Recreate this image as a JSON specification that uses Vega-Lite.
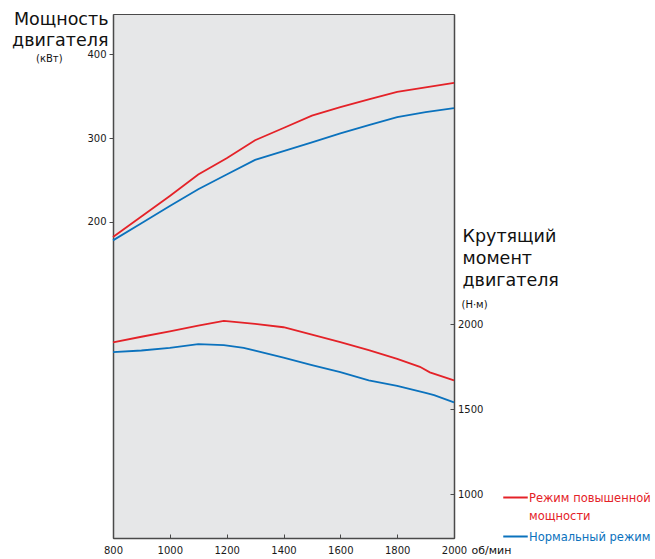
{
  "$schema": "https://vega.github.io/schema/vega-lite/v6.json",
  "autosize": {"type": "none"},
  "width": 341,
  "height": 524,
  "padding": {"left": 113, "top": 14, "right": 201, "bottom": 21},
  "background": "white",
  "config": {
    "view": {"fill": "#e6e7e8", "stroke": "#4a4a4a", "strokeWidth": 1},
    "font": "DejaVu Sans",
    "axis": {"labelFont": "DejaVu Sans", "labelFontSize": 10, "labelColor": "#1a1a1a", "titleFont": "DejaVu Sans", "titleFontWeight": "normal", "titleColor": "#111", "domainColor": "#4a4a4a", "domainWidth": 1.5, "tickColor": "#4a4a4a", "grid": false, "format": "d"}
  },
  "title": {"text": "(кВт)", "anchor": "start", "frame": "group", "orient": "top", "fontSize": 10, "fontWeight": "normal", "font": "DejaVu Sans", "color": "#111", "align": "left", "dx": -77, "offset": 0, "dy": 53.5},
  "datasets": {
    "power": [
      {"rpm": 800, "mode": "Режим повышенной мощности", "kW": 182},
      {"rpm": 900, "mode": "Режим повышенной мощности", "kW": 206.5},
      {"rpm": 1000, "mode": "Режим повышенной мощности", "kW": 231},
      {"rpm": 1100, "mode": "Режим повышенной мощности", "kW": 256.5},
      {"rpm": 1200, "mode": "Режим повышенной мощности", "kW": 276},
      {"rpm": 1300, "mode": "Режим повышенной мощности", "kW": 297.5},
      {"rpm": 1400, "mode": "Режим повышенной мощности", "kW": 312},
      {"rpm": 1500, "mode": "Режим повышенной мощности", "kW": 326.8},
      {"rpm": 1600, "mode": "Режим повышенной мощности", "kW": 336.8},
      {"rpm": 1700, "mode": "Режим повышенной мощности", "kW": 346.3},
      {"rpm": 1800, "mode": "Режим повышенной мощности", "kW": 355},
      {"rpm": 1900, "mode": "Режим повышенной мощности", "kW": 360.5},
      {"rpm": 2000, "mode": "Режим повышенной мощности", "kW": 365.8},
      {"rpm": 800, "mode": "Нормальный режим", "kW": 178},
      {"rpm": 900, "mode": "Нормальный режим", "kW": 198.5},
      {"rpm": 1000, "mode": "Нормальный режим", "kW": 219},
      {"rpm": 1100, "mode": "Нормальный режим", "kW": 239},
      {"rpm": 1200, "mode": "Нормальный режим", "kW": 256.5},
      {"rpm": 1300, "mode": "Нормальный режим", "kW": 274},
      {"rpm": 1400, "mode": "Нормальный режим", "kW": 284.5},
      {"rpm": 1500, "mode": "Нормальный режим", "kW": 295},
      {"rpm": 1600, "mode": "Нормальный режим", "kW": 305.5},
      {"rpm": 1700, "mode": "Нормальный режим", "kW": 315.5},
      {"rpm": 1800, "mode": "Нормальный режим", "kW": 325},
      {"rpm": 1900, "mode": "Нормальный режим", "kW": 331},
      {"rpm": 2000, "mode": "Нормальный режим", "kW": 335.7}
    ],
    "torque": [
      {"rpm": 800, "mode": "Режим повышенной мощности", "Nm": 1894},
      {"rpm": 900, "mode": "Режим повышенной мощности", "Nm": 1927},
      {"rpm": 1000, "mode": "Режим повышенной мощности", "Nm": 1959},
      {"rpm": 1100, "mode": "Режим повышенной мощности", "Nm": 1992},
      {"rpm": 1190, "mode": "Режим повышенной мощности", "Nm": 2021},
      {"rpm": 1300, "mode": "Режим повышенной мощности", "Nm": 2003},
      {"rpm": 1400, "mode": "Режим повышенной мощности", "Nm": 1983},
      {"rpm": 1500, "mode": "Режим повышенной мощности", "Nm": 1940},
      {"rpm": 1600, "mode": "Режим повышенной мощности", "Nm": 1895},
      {"rpm": 1700, "mode": "Режим повышенной мощности", "Nm": 1848},
      {"rpm": 1800, "mode": "Режим повышенной мощности", "Nm": 1797},
      {"rpm": 1880, "mode": "Режим повышенной мощности", "Nm": 1750},
      {"rpm": 1915, "mode": "Режим повышенной мощности", "Nm": 1717},
      {"rpm": 2000, "mode": "Режим повышенной мощности", "Nm": 1670},
      {"rpm": 800, "mode": "Нормальный режим", "Nm": 1836},
      {"rpm": 900, "mode": "Нормальный режим", "Nm": 1846},
      {"rpm": 1000, "mode": "Нормальный режим", "Nm": 1862},
      {"rpm": 1100, "mode": "Нормальный режим", "Nm": 1884},
      {"rpm": 1190, "mode": "Нормальный режим", "Nm": 1878},
      {"rpm": 1260, "mode": "Нормальный режим", "Nm": 1862},
      {"rpm": 1300, "mode": "Нормальный режим", "Nm": 1845},
      {"rpm": 1400, "mode": "Нормальный режим", "Nm": 1804},
      {"rpm": 1500, "mode": "Нормальный режим", "Nm": 1760},
      {"rpm": 1600, "mode": "Нормальный режим", "Nm": 1718},
      {"rpm": 1700, "mode": "Нормальный режим", "Nm": 1670},
      {"rpm": 1800, "mode": "Нормальный режим", "Nm": 1638},
      {"rpm": 1900, "mode": "Нормальный режим", "Nm": 1596},
      {"rpm": 1930, "mode": "Нормальный режим", "Nm": 1583},
      {"rpm": 2000, "mode": "Нормальный режим", "Nm": 1540}
    ]
  },
  "encoding": {
    "color": {
      "field": "mode", "type": "nominal",
      "scale": {"domain": ["Режим повышенной мощности", "Нормальный режим"], "range": ["#e42228", "#0b72bd"]},
      "legend": {
        "orient": "none", "legendX": 389, "legendY": 470, "title": null,
        "symbolType": "stroke", "symbolSize": 600, "symbolStrokeWidth": 2,
        "labelFont": "DejaVu Sans", "labelFontSize": 11.5, "labelOffset": 0, "labelLimit": 0,
        "padding": 0, "rowPadding": -9, "labelBaseline": "alphabetic",
        "labelExpr": "datum.value == 'Режим повышенной мощности' ? ['Режим повышенной', 'мощности'] : datum.label",
        "encode": {"labels": {"update": {"fill": {"scale": "color", "field": "value"}, "dy": {"value": 4}, "lineHeight": {"value": 18.6}}}}
      }
    }
  },
  "layer": [
    {
      "data": {"name": "power"},
      "mark": {"type": "line", "strokeWidth": 1.8},
      "encoding": {
        "x": {"field": "rpm", "type": "quantitative", "scale": {"domain": [800, 2000], "nice": false},
          "axis": {"orient": "bottom", "values": [800, 1000, 1200, 1400, 1600, 1800, 2000], "tickSize": -4, "labelPadding": 11.5, "labelBaseline": "top", "labelFlush": false,
            "title": "об/мин", "titleFontSize": 11, "titleAnchor": "start", "titleAlign": "left", "titleBaseline": "alphabetic", "titleX": 358, "titleY": 15.4}},
        "y": {"field": "kW", "type": "quantitative", "scale": {"domain": [-177, 448], "nice": false, "zero": false},
          "axis": {"orient": "left", "values": [200, 300, 400], "tickSize": 4, "labelPadding": 3,
            "title": ["Мощность", "двигателя"], "titleFontSize": 17.5, "titleAngle": 0, "titleAlign": "right", "titleBaseline": "alphabetic", "titleX": -5, "titleY": 10, "titleLineHeight": 21}}
      }
    },
    {
      "data": {"name": "torque"},
      "mark": {"type": "line", "strokeWidth": 1.8},
      "encoding": {
        "x": {"field": "rpm", "type": "quantitative", "scale": {"domain": [800, 2000], "nice": false},
          "axis": {"orient": "top", "labels": false, "ticks": false, "domain": false,
            "title": "(Н·м)", "titleFontSize": 10, "titleAnchor": "start", "titleAlign": "left", "titleBaseline": "middle", "titleX": 348, "titleY": 290}},
        "y": {"field": "Nm", "type": "quantitative", "scale": {"domain": [741, 3829], "nice": false, "zero": false},
          "axis": {"orient": "right", "values": [1000, 1500, 2000], "tickSize": -4, "labelPadding": 7.5,
            "title": ["Крутящий", "момент", "двигателя"], "titleFontSize": 17.5, "titleAngle": 0, "titleAlign": "left", "titleBaseline": "alphabetic", "titleX": 8, "titleY": 227, "titleLineHeight": 22}}
      }
    }
  ],
  "resolve": {"scale": {"y": "independent"}, "axis": {"x": "independent"}}
}
